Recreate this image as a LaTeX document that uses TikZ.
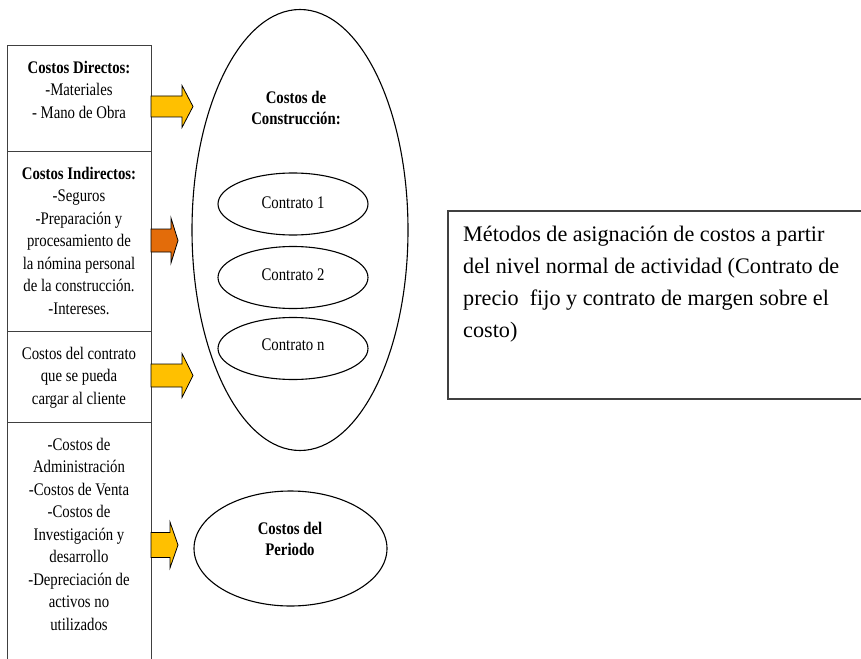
\documentclass[tikz,border=0pt]{standalone}
\usepackage{fontspec}
\setmainfont{Liberation Serif}
\newfontfamily\cfont[FakeStretch=0.835]{Liberation Serif}
\usetikzlibrary{shapes.geometric}
\definecolor{ygold}{HTML}{FFC000}
\definecolor{dorange}{HTML}{E36C0A}
\definecolor{bgray}{HTML}{404040}
% #1 tail x, #2 centre y, #3 head start x, #4 tip x, #5 shaft half height, #6 head half height, #7 colour
\newcommand\blockarrow[7]{%
  \path[fill=#7, draw=black, line width=0.8pt, line join=miter]
    (#1,#2-#5) -- (#3,#2-#5) -- (#3,#2-#6) -- (#4,#2) -- (#3,#2+#6) -- (#3,#2+#5) -- (#1,#2+#5) -- cycle;}
\tikzset{
  colbox/.style={draw=bgray, line width=1.4pt, minimum width=144pt, anchor=north west, inner sep=0},
  lbl/.style={inner sep=0, anchor=base, font=\cfont\fontsize{17.7}{22.5}\selectfont},
  lbltight/.style={inner sep=0, anchor=base, font=\cfont\fontsize{17.7}{21}\selectfont},
  oval/.style={ellipse, draw=black, line width=1.1pt, inner sep=0},
}
\begin{document}
\begin{tikzpicture}[x=1pt, y=-1pt]
\useasboundingbox (0,0) rectangle (861,658);
% left column boxes
\node[colbox, minimum height=106pt] (b1) at (7,45) {};
\node[colbox, minimum height=180pt] (b2) at (7,151) {};
\node[colbox, minimum height=91pt] (b3) at (7,331) {};
\node[colbox, minimum height=260pt] (b4) at (7,422) {};
% texts of the boxes
\node[lbl] (t1) at (79,73.5) {\begin{tabular}[t]{@{}c@{}}\textbf{Costos Directos:}\\-Materiales\\- Mano de Obra\end{tabular}};
\node[lbl] (t2) at (79,179.3) {\begin{tabular}[t]{@{}c@{}}\textbf{Costos Indirectos:}\\-Seguros\\-Preparación y\\procesamiento de\\la nómina personal\\de la construcción.\\-Intereses.\end{tabular}};
\node[lbl] (t3) at (79,359.3) {\begin{tabular}[t]{@{}c@{}}Costos del contrato\\que se pueda\\cargar al cliente\end{tabular}};
\node[lbl] (t4) at (79,450) {\begin{tabular}[t]{@{}c@{}}-Costos de\\Administración\\-Costos de Venta\\-Costos de\\Investigación y\\desarrollo\\-Depreciación de\\activos no\\utilizados\end{tabular}};
% block arrows
\blockarrow{151}{106.5}{182}{193}{10.5}{21}{ygold}
\blockarrow{151}{240.5}{171}{178}{11.5}{22.5}{dorange}
\blockarrow{151}{375.5}{182}{193}{11.5}{22}{ygold}
\blockarrow{151}{545}{170}{178}{12.5}{23}{ygold}
% construction costs ellipse
\node[oval, minimum width=216pt, minimum height=441pt] (cc) at (300,230) {};
\node[lbltight] (cct) at (296,103.3) {\begin{tabular}[t]{@{}c@{}}\textbf{Costos de}\\\textbf{Construcción:}\end{tabular}};
\node[oval, minimum width=150pt, minimum height=62pt] (c1) at (293,204) {};
\node[lbl] (c1t) at (293,208.3) {Contrato 1};
\node[oval, minimum width=150pt, minimum height=62pt] (c2) at (293,277.5) {};
\node[lbl] (c2t) at (293,280) {Contrato 2};
\node[oval, minimum width=150pt, minimum height=62pt] (cn) at (293,348.5) {};
\node[lbl] (cnt) at (293,350.7) {Contrato n};
% period costs ellipse
\node[oval, minimum width=193pt, minimum height=115pt] (cp) at (290.5,548.5) {};
\node[lbltight] (cpt) at (290,534) {\begin{tabular}[t]{@{}c@{}}\textbf{Costos del}\\\textbf{Periodo}\end{tabular}};
% right box
\draw[draw=bgray, line width=1.4pt] (880,211) -- (448,211) -- (448,399) -- (880,399);
\node[inner sep=0, anchor=base west, font=\fontsize{22.2}{32}\selectfont] (mt) at (463,241.7)
  {\begin{tabular}[t]{@{}l@{}}Métodos de asignación de costos a partir\\del nivel normal de actividad (Contrato de\\precio~ fijo y contrato de margen sobre el\\costo)\end{tabular}};
\end{tikzpicture}
\end{document}
